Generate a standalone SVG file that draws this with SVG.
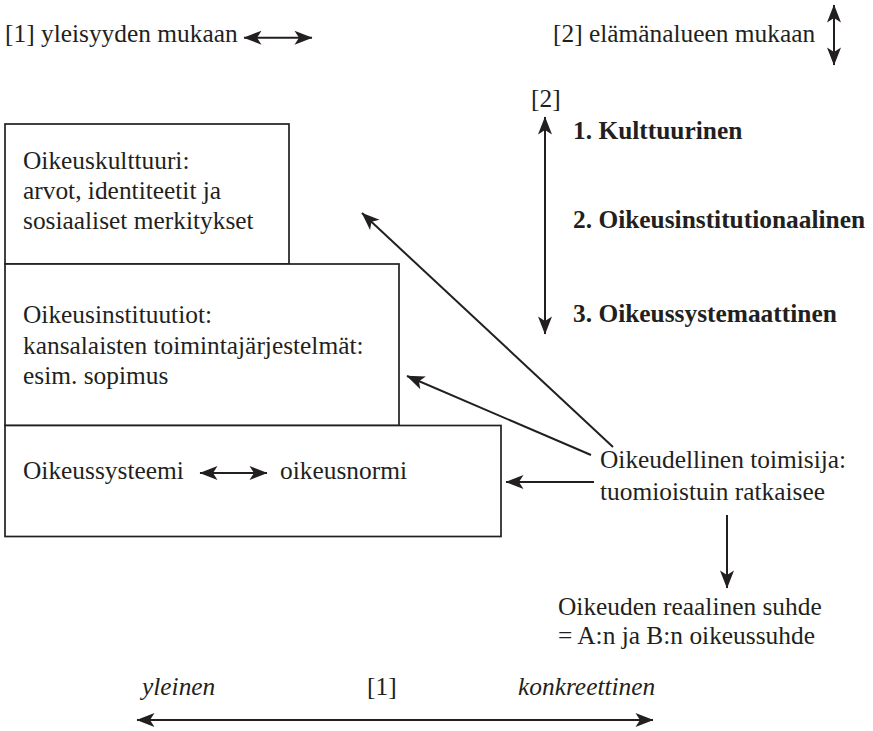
<svg xmlns="http://www.w3.org/2000/svg" width="873" height="731" viewBox="0 0 873 731">
<style>
text{font-family:"Liberation Serif","Times New Roman","DejaVu Serif",serif;font-size:25.4px;fill:#231f20}
.b{font-weight:bold}
.i{font-style:italic}
.box{fill:#fff;stroke:#231f20;stroke-width:1.7}
.ln{fill:none;stroke:#231f20;stroke-width:2}
.one{marker-end:url(#ah)}
.two{marker-start:url(#ah);marker-end:url(#ah)}
</style>
<defs>
<marker id="ah" markerUnits="userSpaceOnUse" viewBox="-20 -9 21 18" markerWidth="21" markerHeight="18" refX="0" refY="0" orient="auto-start-reverse" overflow="visible">
<path d="M0.5,0 L-17.5,-7 L-13,0 L-17.5,7 Z" fill="#231f20"/>
</marker>
</defs>
<rect width="873" height="731" fill="#fff"/>

<g id="legend1">
<text x="5" y="42">[1] yleisyyden mukaan</text>
</g>
<g id="legend2">
<text x="553" y="42">[2] elämänalueen mukaan</text>
</g>

<g id="box-kulttuuri">
<rect class="box" x="5" y="124" width="284" height="140"/>
<text x="23" y="169">Oikeuskulttuuri:</text>
<text x="23" y="199">arvot, identiteetit ja</text>
<text x="23" y="229">sosiaaliset merkitykset</text>
</g>
<g id="box-instituutiot">
<rect class="box" x="5" y="264" width="394" height="161.5"/>
<text x="23" y="323">Oikeusinstituutiot:</text>
<text x="23" y="353.5">kansalaisten toimintajärjestelmät:</text>
<text x="23" y="384">esim. sopimus</text>
</g>
<g id="box-systeemi">
<rect class="box" x="5" y="425.5" width="496" height="111"/>
<text x="23" y="479">Oikeussysteemi</text>
<text x="280" y="479">oikeusnormi</text>
</g>

<g id="levels">
<text x="531" y="107">[2]</text>
<text class="b" x="573" y="139">1. Kulttuurinen</text>
<text class="b" x="573" y="228">2. Oikeusinstitutionaalinen</text>
<text class="b" x="573" y="322">3. Oikeussystemaattinen</text>
</g>

<g id="toimisija">
<text x="600" y="468">Oikeudellinen toimisija:</text>
<text x="600" y="500">tuomioistuin ratkaisee</text>
</g>
<g id="suhde">
<text x="558" y="615">Oikeuden reaalinen suhde</text>
<text x="558" y="644">= A:n ja B:n oikeussuhde</text>
</g>

<g id="scale">
<text class="i" x="142" y="695">yleinen</text>
<text x="367" y="695">[1]</text>
<text class="i" x="518" y="695">konkreettinen</text>
</g>

<g id="connectors">
<line class="ln two" x1="244" y1="37.7" x2="312" y2="37.7"/>
<line class="ln two" x1="834" y1="5" x2="834" y2="65"/>
<line class="ln two" x1="545" y1="117" x2="545" y2="334"/>
<line class="ln two" x1="200" y1="473" x2="267" y2="473"/>
<line class="ln one" x1="613" y1="447" x2="362" y2="213"/>
<line class="ln one" x1="591" y1="455" x2="407" y2="376"/>
<line class="ln one" x1="594" y1="482" x2="506" y2="482"/>
<line class="ln one" x1="727" y1="515" x2="727" y2="588"/>
<line class="ln two" x1="137" y1="720" x2="653" y2="720"/>
</g>
</svg>
